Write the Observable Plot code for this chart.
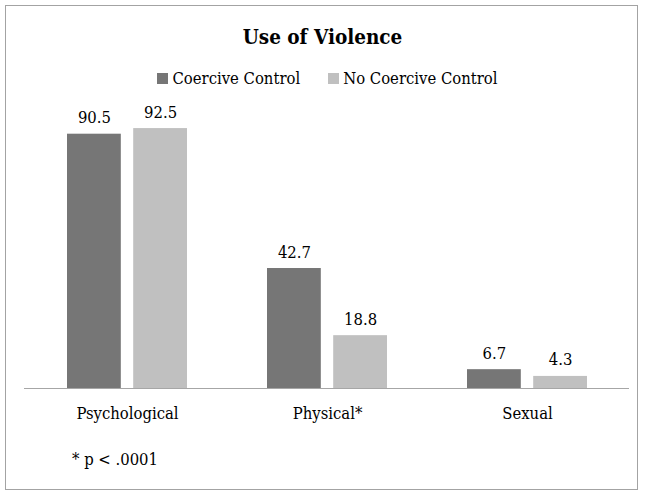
<!DOCTYPE html>
<html>
<head>
<meta charset="utf-8">
<script src="https://cdn.jsdelivr.net/npm/d3@7"></script>
<script src="https://cdn.jsdelivr.net/npm/@observablehq/plot@0.6"></script>
<style>
  html, body { margin: 0; padding: 0; background: #fff; }
  body { width: 645px; height: 496px; position: relative; overflow: hidden; font-family: "DejaVu Serif Condensed", "DejaVu Serif", serif; color: #000; }
  #frame { position: absolute; left: 5px; top: 5px; width: 631px; height: 483px; border: 1.5px solid #a3a3a3; }
  #title { position: absolute; left: 0; width: 645px; top: 25px; text-align: center; font-weight: bold; font-size: 20.5px; }
  #legend { position: absolute; left: 5px; width: 645px; top: 69px; text-align: center; font-size: 16.5px; white-space: nowrap; }
  .sw { display: inline-block; width: 11px; height: 11px; margin-right: 4px; vertical-align: 0px; }
  .item { display: inline-block; margin: 0 14px; }
  #note { position: absolute; left: 72px; top: 450px; font-size: 16.5px; }
  #chart { position: absolute; left: 0; top: 0; }
</style>
</head>
<body>
<div id="frame"></div>
<div id="chart"></div>
<div id="title">Use of Violence</div>
<div id="legend"></div>
<div id="note">* p &lt; .0001</div>
<script>
const categories = ["Psychological", "Physical*", "Sexual"];
const seriesNames = ["Coercive Control", "No Coercive Control"];
const coercive = [90.5, 42.7, 6.7];
const noCoercive = [92.5, 18.8, 4.3];
const colors = ["#767676", "#c0c0c0"];

const rows = [];
categories.forEach((c, i) => {
  rows.push({category: c, series: seriesNames[0], value: coercive[i]});
  rows.push({category: c, series: seriesNames[1], value: noCoercive[i]});
});
const dark = rows.filter(d => d.series === seriesNames[0]);
const light = rows.filter(d => d.series === seriesNames[1]);

const bandwidth = 0.6 * 605 / 3.02;
const barW = 54;
const inset = bandwidth - barW;
const shift = bandwidth / 2 - barW / 2;
const font = "'DejaVu Serif Condensed', 'DejaVu Serif', serif";

const chart = Plot.plot({
  width: 645,
  height: 496,
  marginLeft: 24,
  marginRight: 16,
  marginTop: 107,
  marginBottom: 108,
  style: {fontFamily: font, fontSize: "16.5px", color: "#000", background: "transparent"},
  x: {type: "band", domain: categories, paddingInner: 0.4, paddingOuter: 0.21, label: null},
  y: {domain: [0, 100], axis: null},
  marks: [
    Plot.barY(dark, {x: "category", y: "value", fill: colors[0], insetRight: inset, insetLeft: 0}),
    Plot.barY(light, {x: "category", y: "value", fill: colors[1], insetLeft: inset, insetRight: 0}),
    Plot.text(dark, {x: "category", y: "value", text: d => d.value.toFixed(1), dx: -shift, lineAnchor: "bottom", dy: -11, fill: "#000", fontSize: 16.5}),
    Plot.text(light, {x: "category", y: "value", text: d => d.value.toFixed(1), dx: shift, lineAnchor: "bottom", dy: -11, fill: "#000", fontSize: 16.5}),
    Plot.ruleY([0], {stroke: "#a6a6a6", strokeWidth: 1.2}),
    Plot.axisX({tickSize: 0, tickPadding: 19, fontSize: 16.5, label: null})
  ]
});
document.getElementById("chart").appendChild(chart);

const legend = document.getElementById("legend");
seriesNames.forEach((s, i) => {
  const span = document.createElement("span");
  span.className = "item";
  const sw = document.createElement("span");
  sw.className = "sw";
  sw.style.background = colors[i];
  span.appendChild(sw);
  span.appendChild(document.createTextNode(s));
  legend.appendChild(span);
});
</script>
</body>
</html>
